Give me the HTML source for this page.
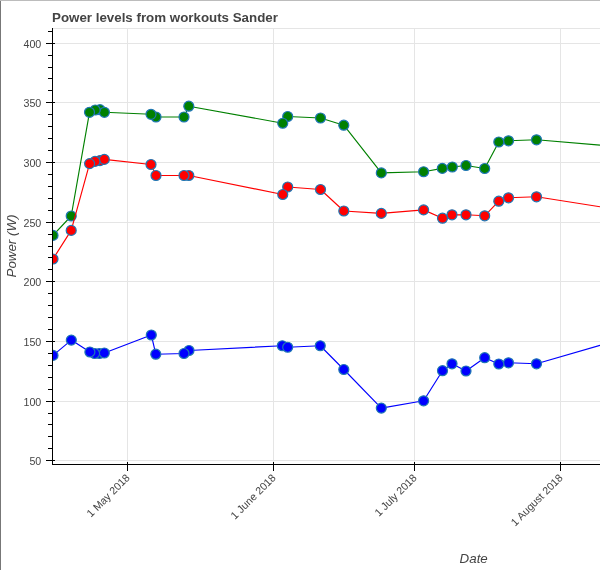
<!DOCTYPE html>
<html><head><meta charset="utf-8"><style>
html,body{margin:0;padding:0;background:#fff;}
body{width:600px;height:570px;overflow:hidden;position:relative;}
#top{position:absolute;left:0;top:0;width:600px;height:1px;background:#bcbcbc;}
#left{position:absolute;left:0;top:1px;width:1px;height:569px;background:#777;}
svg{position:absolute;left:0;top:0;will-change:transform;}
text{font-family:"Liberation Sans",sans-serif;fill:#444;}
.tl{font-size:10.667px;}
.ttl{font-size:13.333px;font-weight:bold;}
.al{font-size:13.333px;font-style:italic;}
</style></head><body>
<svg width="600" height="570" viewBox="0 0 600 570">
<defs><clipPath id="fr"><rect x="53" y="28" width="547" height="436"/></clipPath></defs>
<rect x="53" y="43" width="547" height="1" fill="#e5e5e5"/>
<rect x="53" y="102" width="547" height="1" fill="#e5e5e5"/>
<rect x="53" y="162" width="547" height="1" fill="#e5e5e5"/>
<rect x="53" y="222" width="547" height="1" fill="#e5e5e5"/>
<rect x="53" y="281" width="547" height="1" fill="#e5e5e5"/>
<rect x="53" y="341" width="547" height="1" fill="#e5e5e5"/>
<rect x="53" y="401" width="547" height="1" fill="#e5e5e5"/>
<rect x="53" y="460" width="547" height="1" fill="#e5e5e5"/>
<rect x="127" y="28" width="1" height="436" fill="#e5e5e5"/>
<rect x="273" y="28" width="1" height="436" fill="#e5e5e5"/>
<rect x="414" y="28" width="1" height="436" fill="#e5e5e5"/>
<rect x="560" y="28" width="1" height="436" fill="#e5e5e5"/>
<rect x="53" y="28" width="547" height="1" fill="#e5e5e5"/>
<g clip-path="url(#fr)">
<path d="M53.00,235.40 L71.20,216.00 L89.50,112.30 L95.20,110.00 L100.00,109.70 L104.40,112.30 L151.00,114.30 L156.00,117.00 L184.00,117.00 L188.80,106.20 L282.75,123.25 L287.70,116.50 L320.50,118.00 L343.80,125.20 L381.30,172.90 L423.60,171.75 L442.30,168.40 L452.30,167.00 L466.00,165.50 L484.70,168.50 L498.80,142.00 L508.50,140.80 L536.50,139.80 L600.00,145.10" fill="none" stroke="#008000" stroke-width="1.15" stroke-linejoin="round"/>
<circle cx="536.50" cy="139.80" r="5" fill="#008000" stroke="#1f77b4" stroke-width="1.2"/>
<circle cx="508.50" cy="140.80" r="5" fill="#008000" stroke="#1f77b4" stroke-width="1.2"/>
<circle cx="498.80" cy="142.00" r="5" fill="#008000" stroke="#1f77b4" stroke-width="1.2"/>
<circle cx="484.70" cy="168.50" r="5" fill="#008000" stroke="#1f77b4" stroke-width="1.2"/>
<circle cx="466.00" cy="165.50" r="5" fill="#008000" stroke="#1f77b4" stroke-width="1.2"/>
<circle cx="452.30" cy="167.00" r="5" fill="#008000" stroke="#1f77b4" stroke-width="1.2"/>
<circle cx="442.30" cy="168.40" r="5" fill="#008000" stroke="#1f77b4" stroke-width="1.2"/>
<circle cx="423.60" cy="171.75" r="5" fill="#008000" stroke="#1f77b4" stroke-width="1.2"/>
<circle cx="381.30" cy="172.90" r="5" fill="#008000" stroke="#1f77b4" stroke-width="1.2"/>
<circle cx="343.80" cy="125.20" r="5" fill="#008000" stroke="#1f77b4" stroke-width="1.2"/>
<circle cx="320.50" cy="118.00" r="5" fill="#008000" stroke="#1f77b4" stroke-width="1.2"/>
<circle cx="287.70" cy="116.50" r="5" fill="#008000" stroke="#1f77b4" stroke-width="1.2"/>
<circle cx="282.75" cy="123.25" r="5" fill="#008000" stroke="#1f77b4" stroke-width="1.2"/>
<circle cx="188.80" cy="106.20" r="5" fill="#008000" stroke="#1f77b4" stroke-width="1.2"/>
<circle cx="184.00" cy="117.00" r="5" fill="#008000" stroke="#1f77b4" stroke-width="1.2"/>
<circle cx="156.00" cy="117.00" r="5" fill="#008000" stroke="#1f77b4" stroke-width="1.2"/>
<circle cx="151.00" cy="114.30" r="5" fill="#008000" stroke="#1f77b4" stroke-width="1.2"/>
<circle cx="100.00" cy="109.70" r="5" fill="#008000" stroke="#1f77b4" stroke-width="1.2"/>
<circle cx="104.40" cy="112.30" r="5" fill="#008000" stroke="#1f77b4" stroke-width="1.2"/>
<circle cx="95.20" cy="110.00" r="5" fill="#008000" stroke="#1f77b4" stroke-width="1.2"/>
<circle cx="89.50" cy="112.30" r="5" fill="#008000" stroke="#1f77b4" stroke-width="1.2"/>
<circle cx="71.20" cy="216.00" r="5" fill="#008000" stroke="#1f77b4" stroke-width="1.2"/>
<circle cx="53.00" cy="235.40" r="5" fill="#008000" stroke="#1f77b4" stroke-width="1.2"/>

<path d="M53.00,259.00 L71.20,230.40 L89.60,163.60 L95.00,161.40 L100.00,160.60 L104.30,159.40 L151.00,164.50 L156.00,175.50 L184.00,175.50 L188.80,175.50 L282.75,194.50 L287.70,187.00 L320.50,189.50 L343.80,211.00 L381.30,213.40 L423.60,209.90 L442.50,218.20 L452.00,214.80 L466.00,214.80 L484.70,215.80 L498.80,201.20 L508.50,197.80 L536.50,196.80 L600.00,206.80" fill="none" stroke="#ff0000" stroke-width="1.15" stroke-linejoin="round"/>
<circle cx="536.50" cy="196.80" r="5" fill="#ff0000" stroke="#1f77b4" stroke-width="1.2"/>
<circle cx="508.50" cy="197.80" r="5" fill="#ff0000" stroke="#1f77b4" stroke-width="1.2"/>
<circle cx="498.80" cy="201.20" r="5" fill="#ff0000" stroke="#1f77b4" stroke-width="1.2"/>
<circle cx="484.70" cy="215.80" r="5" fill="#ff0000" stroke="#1f77b4" stroke-width="1.2"/>
<circle cx="466.00" cy="214.80" r="5" fill="#ff0000" stroke="#1f77b4" stroke-width="1.2"/>
<circle cx="452.00" cy="214.80" r="5" fill="#ff0000" stroke="#1f77b4" stroke-width="1.2"/>
<circle cx="442.50" cy="218.20" r="5" fill="#ff0000" stroke="#1f77b4" stroke-width="1.2"/>
<circle cx="423.60" cy="209.90" r="5" fill="#ff0000" stroke="#1f77b4" stroke-width="1.2"/>
<circle cx="381.30" cy="213.40" r="5" fill="#ff0000" stroke="#1f77b4" stroke-width="1.2"/>
<circle cx="343.80" cy="211.00" r="5" fill="#ff0000" stroke="#1f77b4" stroke-width="1.2"/>
<circle cx="320.50" cy="189.50" r="5" fill="#ff0000" stroke="#1f77b4" stroke-width="1.2"/>
<circle cx="287.70" cy="187.00" r="5" fill="#ff0000" stroke="#1f77b4" stroke-width="1.2"/>
<circle cx="282.75" cy="194.50" r="5" fill="#ff0000" stroke="#1f77b4" stroke-width="1.2"/>
<circle cx="188.80" cy="175.50" r="5" fill="#ff0000" stroke="#1f77b4" stroke-width="1.2"/>
<circle cx="184.00" cy="175.50" r="5" fill="#ff0000" stroke="#1f77b4" stroke-width="1.2"/>
<circle cx="156.00" cy="175.50" r="5" fill="#ff0000" stroke="#1f77b4" stroke-width="1.2"/>
<circle cx="151.00" cy="164.50" r="5" fill="#ff0000" stroke="#1f77b4" stroke-width="1.2"/>
<circle cx="100.00" cy="160.60" r="5" fill="#ff0000" stroke="#1f77b4" stroke-width="1.2"/>
<circle cx="104.30" cy="159.40" r="5" fill="#ff0000" stroke="#1f77b4" stroke-width="1.2"/>
<circle cx="95.00" cy="161.40" r="5" fill="#ff0000" stroke="#1f77b4" stroke-width="1.2"/>
<circle cx="89.60" cy="163.60" r="5" fill="#ff0000" stroke="#1f77b4" stroke-width="1.2"/>
<circle cx="71.20" cy="230.40" r="5" fill="#ff0000" stroke="#1f77b4" stroke-width="1.2"/>
<circle cx="53.00" cy="259.00" r="5" fill="#ff0000" stroke="#1f77b4" stroke-width="1.2"/>

<path d="M53.00,355.40 L71.30,340.10 L89.90,352.00 L94.60,353.50 L99.30,353.50 L104.30,353.00 L151.30,335.00 L155.80,354.20 L184.00,353.50 L189.00,350.50 L282.30,345.75 L287.70,347.25 L320.25,345.75 L343.80,369.50 L381.30,408.10 L423.60,400.80 L442.50,370.70 L452.00,363.80 L466.00,371.00 L484.70,357.70 L498.80,364.00 L508.50,362.80 L536.50,363.80 L600.00,345.30" fill="none" stroke="#0000ff" stroke-width="1.15" stroke-linejoin="round"/>
<circle cx="536.50" cy="363.80" r="5" fill="#0000ff" stroke="#1f77b4" stroke-width="1.2"/>
<circle cx="508.50" cy="362.80" r="5" fill="#0000ff" stroke="#1f77b4" stroke-width="1.2"/>
<circle cx="498.80" cy="364.00" r="5" fill="#0000ff" stroke="#1f77b4" stroke-width="1.2"/>
<circle cx="484.70" cy="357.70" r="5" fill="#0000ff" stroke="#1f77b4" stroke-width="1.2"/>
<circle cx="466.00" cy="371.00" r="5" fill="#0000ff" stroke="#1f77b4" stroke-width="1.2"/>
<circle cx="452.00" cy="363.80" r="5" fill="#0000ff" stroke="#1f77b4" stroke-width="1.2"/>
<circle cx="442.50" cy="370.70" r="5" fill="#0000ff" stroke="#1f77b4" stroke-width="1.2"/>
<circle cx="423.60" cy="400.80" r="5" fill="#0000ff" stroke="#1f77b4" stroke-width="1.2"/>
<circle cx="381.30" cy="408.10" r="5" fill="#0000ff" stroke="#1f77b4" stroke-width="1.2"/>
<circle cx="343.80" cy="369.50" r="5" fill="#0000ff" stroke="#1f77b4" stroke-width="1.2"/>
<circle cx="320.25" cy="345.75" r="5" fill="#0000ff" stroke="#1f77b4" stroke-width="1.2"/>
<circle cx="282.30" cy="345.75" r="5" fill="#0000ff" stroke="#1f77b4" stroke-width="1.2"/>
<circle cx="287.70" cy="347.25" r="5" fill="#0000ff" stroke="#1f77b4" stroke-width="1.2"/>
<circle cx="189.00" cy="350.50" r="5" fill="#0000ff" stroke="#1f77b4" stroke-width="1.2"/>
<circle cx="184.00" cy="353.50" r="5" fill="#0000ff" stroke="#1f77b4" stroke-width="1.2"/>
<circle cx="155.80" cy="354.20" r="5" fill="#0000ff" stroke="#1f77b4" stroke-width="1.2"/>
<circle cx="151.30" cy="335.00" r="5" fill="#0000ff" stroke="#1f77b4" stroke-width="1.2"/>
<circle cx="99.30" cy="353.50" r="5" fill="#0000ff" stroke="#1f77b4" stroke-width="1.2"/>
<circle cx="104.30" cy="353.00" r="5" fill="#0000ff" stroke="#1f77b4" stroke-width="1.2"/>
<circle cx="94.60" cy="353.50" r="5" fill="#0000ff" stroke="#1f77b4" stroke-width="1.2"/>
<circle cx="89.90" cy="352.00" r="5" fill="#0000ff" stroke="#1f77b4" stroke-width="1.2"/>
<circle cx="71.30" cy="340.10" r="5" fill="#0000ff" stroke="#1f77b4" stroke-width="1.2"/>
<circle cx="53.00" cy="355.40" r="5" fill="#0000ff" stroke="#1f77b4" stroke-width="1.2"/>

</g>
<rect x="52" y="28" width="1" height="437" fill="#000"/>
<rect x="52" y="464" width="548" height="1" fill="#000"/>
<rect x="46" y="43" width="9" height="1" fill="#000"/>
<text x="41.3" y="47.5" text-anchor="end" class="tl">400</text>
<rect x="46" y="102" width="9" height="1" fill="#000"/>
<text x="41.3" y="106.5" text-anchor="end" class="tl">350</text>
<rect x="46" y="162" width="9" height="1" fill="#000"/>
<text x="41.3" y="166.5" text-anchor="end" class="tl">300</text>
<rect x="46" y="222" width="9" height="1" fill="#000"/>
<text x="41.3" y="226.5" text-anchor="end" class="tl">250</text>
<rect x="46" y="281" width="9" height="1" fill="#000"/>
<text x="41.3" y="285.5" text-anchor="end" class="tl">200</text>
<rect x="46" y="341" width="9" height="1" fill="#000"/>
<text x="41.3" y="345.5" text-anchor="end" class="tl">150</text>
<rect x="46" y="401" width="9" height="1" fill="#000"/>
<text x="41.3" y="405.5" text-anchor="end" class="tl">100</text>
<rect x="46" y="460" width="9" height="1" fill="#000"/>
<text x="41.3" y="464.5" text-anchor="end" class="tl">50</text>
<rect x="48" y="448" width="4" height="1" fill="#000"/>
<rect x="48" y="436" width="4" height="1" fill="#000"/>
<rect x="48" y="424" width="4" height="1" fill="#000"/>
<rect x="48" y="413" width="4" height="1" fill="#000"/>
<rect x="48" y="389" width="4" height="1" fill="#000"/>
<rect x="48" y="377" width="4" height="1" fill="#000"/>
<rect x="48" y="365" width="4" height="1" fill="#000"/>
<rect x="48" y="353" width="4" height="1" fill="#000"/>
<rect x="48" y="329" width="4" height="1" fill="#000"/>
<rect x="48" y="317" width="4" height="1" fill="#000"/>
<rect x="48" y="305" width="4" height="1" fill="#000"/>
<rect x="48" y="293" width="4" height="1" fill="#000"/>
<rect x="48" y="269" width="4" height="1" fill="#000"/>
<rect x="48" y="257" width="4" height="1" fill="#000"/>
<rect x="48" y="246" width="4" height="1" fill="#000"/>
<rect x="48" y="234" width="4" height="1" fill="#000"/>
<rect x="48" y="210" width="4" height="1" fill="#000"/>
<rect x="48" y="198" width="4" height="1" fill="#000"/>
<rect x="48" y="186" width="4" height="1" fill="#000"/>
<rect x="48" y="174" width="4" height="1" fill="#000"/>
<rect x="48" y="150" width="4" height="1" fill="#000"/>
<rect x="48" y="138" width="4" height="1" fill="#000"/>
<rect x="48" y="126" width="4" height="1" fill="#000"/>
<rect x="48" y="114" width="4" height="1" fill="#000"/>
<rect x="48" y="90" width="4" height="1" fill="#000"/>
<rect x="48" y="78" width="4" height="1" fill="#000"/>
<rect x="48" y="67" width="4" height="1" fill="#000"/>
<rect x="48" y="55" width="4" height="1" fill="#000"/>
<rect x="48" y="31" width="4" height="1" fill="#000"/>
<rect x="127" y="462" width="1" height="9" fill="#000"/>
<text transform="translate(128.5,476.5) rotate(-45)" text-anchor="end" dominant-baseline="middle" class="tl">1 May 2018</text>
<rect x="273" y="462" width="1" height="9" fill="#000"/>
<text transform="translate(274.5,476.5) rotate(-45)" text-anchor="end" dominant-baseline="middle" class="tl">1 June 2018</text>
<rect x="414" y="462" width="1" height="9" fill="#000"/>
<text transform="translate(415.5,476.5) rotate(-45)" text-anchor="end" dominant-baseline="middle" class="tl">1 July 2018</text>
<rect x="560" y="462" width="1" height="9" fill="#000"/>
<text transform="translate(561.5,476.5) rotate(-45)" text-anchor="end" dominant-baseline="middle" class="tl">1 August 2018</text>
<text x="52" y="21.5" class="ttl">Power levels from workouts Sander</text>
<text transform="translate(16,246) rotate(-90)" text-anchor="middle" class="al">Power (W)</text>
<text x="473.7" y="562.7" text-anchor="middle" class="al">Date</text>
</svg>
<div id="top"></div><div id="left"></div>
</body></html>
